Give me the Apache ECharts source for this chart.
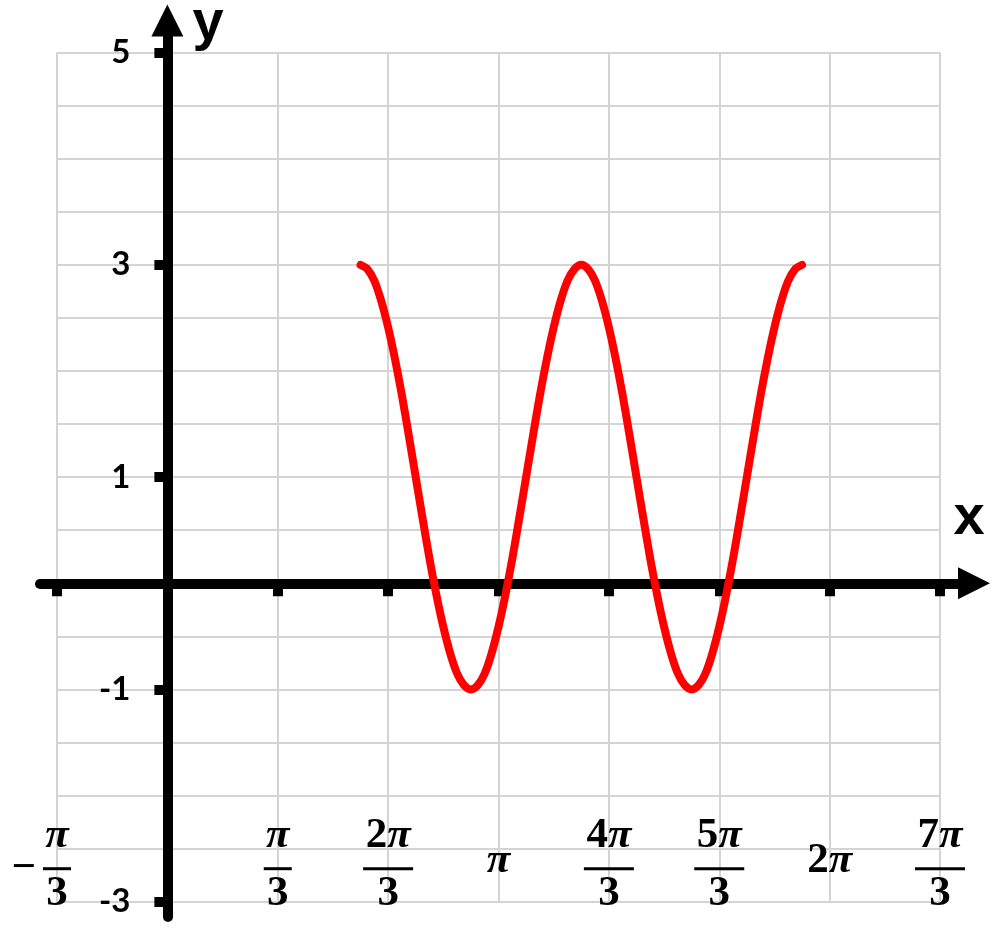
<!DOCTYPE html>
<html lang="en">
<head>
    <meta charset="utf-8">
    <title>y = 1 + 2cos(3x + π/4)</title>
    <script src="https://cdn.jsdelivr.net/npm/echarts@6/dist/echarts.min.js"></script>
    <style>
        html, body { margin: 0; padding: 0; background: #fff; }
        #main { width: 1000px; height: 941px; }
    </style>
</head>
<body>
<div id="main"></div>
<script>
    // x values are in units of pi/3
    var xLabelValues = [-1, 1, 2, 3, 4, 5, 6, 7];
    var xLabelSigns  = ['−', '', '', '', '', '', '', ''];
    var xLabelNums   = ['π', 'π', '2π', 'π', '4π', '5π', '2π', '7π'];
    var xLabelDens   = ['3', '3', '3', '', '3', '3', '', '3'];
    var yLabelValues = [-3, -1, 1, 3, 5];

    // red curve (x in pi/3)
    var curveX = [1.75, 1.8125, 1.875, 1.9375, 2, 2.0625, 2.125, 2.1875,
                  2.25, 2.3125, 2.375, 2.4375, 2.5, 2.5625, 2.625, 2.6875,
                  2.75, 2.8125, 2.875, 2.9375, 3, 3.0625, 3.125, 3.1875,
                  3.25, 3.3125, 3.375, 3.4375, 3.5, 3.5625, 3.625, 3.6875,
                  3.75, 3.8125, 3.875, 3.9375, 4, 4.0625, 4.125, 4.1875,
                  4.25, 4.3125, 4.375, 4.4375, 4.5, 4.5625, 4.625, 4.6875,
                  4.75, 4.8125, 4.875, 4.9375, 5, 5.0625, 5.125, 5.1875,
                  5.25, 5.3125, 5.375, 5.4375, 5.5, 5.5625, 5.625, 5.6875, 5.75];
    var curveY = [3, 2.96, 2.85, 2.66, 2.41, 2.11, 1.77, 1.39,
                  1, 0.61, 0.23, -0.11, -0.41, -0.66, -0.85, -0.96,
                  -1, -0.96, -0.85, -0.66, -0.41, -0.11, 0.23, 0.61,
                  1, 1.39, 1.77, 2.11, 2.41, 2.66, 2.85, 2.96,
                  3, 2.96, 2.85, 2.66, 2.41, 2.11, 1.77, 1.39,
                  1, 0.61, 0.23, -0.11, -0.41, -0.66, -0.85, -0.96,
                  -1, -0.96, -0.85, -0.66, -0.41, -0.11, 0.23, 0.61,
                  1, 1.39, 1.77, 2.11, 2.41, 2.66, 2.85, 2.96, 3];

    // layout of the light grid (pixels)
    var gLeft = 57, gRight = 940, gTop = 52.5, gBottom = 901.7;
    var pxX = (gRight - gLeft) / 8, pxY = (gBottom - gTop) / 8;
    var x0 = gLeft + pxX, y0 = gTop + 5 * pxY;
    // thick axes run a bit past the grid
    var aLeft = 40, aRight = 974, aTop = 20.5, aBottom = 917;

    function numRich(s) {
        // digits upright, pi italic
        var out = '';
        for (var i = 0; i < s.length; i++) {
            out += s[i] === 'π' ? '{np|π}' : '{nd|' + s[i] + '}';
        }
        return out;
    }
    function oneRich(s) {
        var out = '';
        for (var i = 0; i < s.length; i++) {
            out += s[i] === 'π' ? '{sp|π}' : '{sd|' + s[i] + '}';
        }
        return out;
    }

    var serif = '"Liberation Serif", "DejaVu Serif", serif';
    var fs = 43;

    var chart = echarts.init(document.getElementById('main'));
    var option = {
        animation: false,
        grid: [
            { left: gLeft, right: 1000 - gRight, top: gTop, bottom: 941 - gBottom, outerBoundsMode: 'none' },
            { left: aLeft, right: 1000 - aRight, top: aTop, bottom: 941 - aBottom, outerBoundsMode: 'none' }
        ],
        xAxis: [
            {
                type: 'value', gridIndex: 0, min: -1, max: 7, interval: 1,
                position: 'bottom', offset: -41, z: 0,
                axisLine: { show: false, onZero: false },
                axisTick: { show: false },
                splitLine: { show: true, lineStyle: { color: '#d4d4d4', width: 2 } },
                axisLabel: {
                    customValues: xLabelValues,
                    margin: 0,
                    align: 'center',
                    verticalAlign: 'middle',
                    color: '#000',
                    formatter: function (v) {
                        var i = xLabelValues.indexOf(v);
                        if (i < 0) return '';
                        if (xLabelDens[i] === '') return oneRich(xLabelNums[i]);
                        var bar = xLabelNums[i].length > 1 ? '{barL|}' : '{barS|}';
                        var mid = xLabelSigns[i] ? '{m|' + xLabelSigns[i] + '}' + bar + '{gap|}' : bar;
                        return numRich(xLabelNums[i]) + '\n' + mid + '\n{dd|' + xLabelDens[i] + '}';
                    },
                    rich: {
                        nd: { fontFamily: serif, fontWeight: 'bold', fontSize: fs, lineHeight: 50, color: '#000' },
                        np: { fontFamily: serif, fontWeight: 'bold', fontStyle: 'italic', fontSize: fs, lineHeight: 50, color: '#000' },
                        dd: { fontFamily: serif, fontWeight: 'bold', fontSize: fs, lineHeight: 34, color: '#000' },
                        sd: { fontFamily: serif, fontWeight: 'bold', fontSize: fs, lineHeight: 40, color: '#000' },
                        sp: { fontFamily: serif, fontWeight: 'bold', fontStyle: 'italic', fontSize: fs, lineHeight: 40, color: '#000' },
                        barS: { width: 28, height: 3, lineHeight: 16, backgroundColor: '#000' },
                        barL: { width: 50, height: 3, lineHeight: 16, backgroundColor: '#000' },
                        m: { fontFamily: serif, fontWeight: 'bold', fontSize: fs, width: 38, align: 'center', lineHeight: 16, color: '#000' },
                        gap: { width: 38, lineHeight: 16 }
                    }
                }
            },
            {
                type: 'value', gridIndex: 1, z: 1,
                min: (aLeft - x0) / pxX, max: (aRight - x0) / pxX,
                axisLine: {
                    show: true, onZero: true,
                    symbol: ['none', 'triangle'], symbolSize: [32, 32],
                    lineStyle: { color: '#000', width: 10 }
                },
                axisTick: { show: true, customValues: xLabelValues, length: 13, lineStyle: { color: '#000', width: 10 } },
                axisLabel: { show: false },
                splitLine: { show: false }
            }
        ],
        yAxis: [
            {
                // light horizontal lines + the number labels beside the thick y axis
                type: 'value', gridIndex: 0, min: -3, max: 5, interval: 0.5, z: 0,
                position: 'left', offset: -(x0 - gLeft),
                axisLine: { show: false, onZero: false },
                axisTick: { show: false },
                axisLabel: {
                    customValues: yLabelValues,
                    margin: 37,
                    color: '#000',
                    fontFamily: 'Lato, "Open Sans", sans-serif',
                    fontWeight: 'bold',
                    fontSize: 33
                },
                splitLine: { show: true, lineStyle: { color: '#d4d4d4', width: 2 } }
            },
            {
                type: 'value', gridIndex: 1, z: 1,
                min: -(aBottom - y0) / pxY, max: (y0 - aTop) / pxY,
                axisLine: {
                    show: true, onZero: true,
                    symbol: ['none', 'triangle'], symbolSize: [32, 32],
                    lineStyle: { color: '#000', width: 10 }
                },
                axisTick: { show: true, customValues: yLabelValues, length: 13, lineStyle: { color: '#000', width: 10 } },
                axisLabel: { show: false },
                splitLine: { show: false }
            }
        ],
        graphic: [
            { type: 'text', x: 208, y: 24, z: 10,
              style: { text: 'y', fill: '#000', font: 'bold 56px "Liberation Sans", Arial, sans-serif', align: 'center', verticalAlign: 'middle' } },
            { type: 'text', x: 969, y: 519, z: 10,
              style: { text: 'x', fill: '#000', font: 'bold 56px "Liberation Sans", Arial, sans-serif', align: 'center', verticalAlign: 'middle' } }
        ],
        series: [
            {
                type: 'line',
                xAxisIndex: 0, yAxisIndex: 0,
                data: curveX.map(function (x, i) { return [x, curveY[i]]; }),
                smooth: 0.3,
                showSymbol: false,
                symbol: 'none',
                clip: false,
                z: 5,
                lineStyle: { color: '#ff0000', width: 8, cap: 'round', join: 'round' }
            }
        ]
    };
    chart.setOption(option);
</script>
</body>
</html>
